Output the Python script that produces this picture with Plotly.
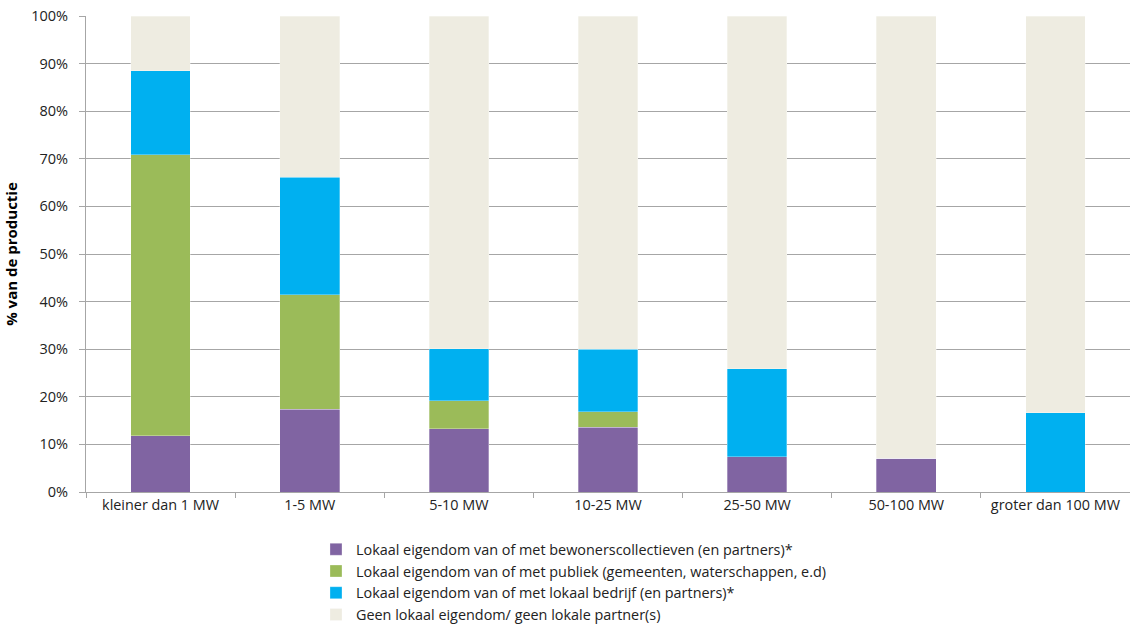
import plotly.graph_objects as go

categories = ["kleiner dan 1 MW", "1-5 MW", "5-10 MW", "10-25 MW", "25-50 MW", "50-100 MW", "groter dan 100 MW"]

series_names = [
    "Lokaal eigendom van of met bewonerscollectieven (en partners)*",
    "Lokaal eigendom van of met publiek (gemeenten, waterschappen, e.d)",
    "Lokaal eigendom van of met lokaal bedrijf (en partners)*",
    "Geen lokaal eigendom/ geen lokale partner(s)",
]

bewoners = [11.8, 17.4, 13.3, 13.6, 7.4, 7.1, 0.0]
publiek = [59.0, 24.0, 5.9, 3.3, 0.0, 0.0, 0.0]
bedrijf = [17.7, 24.7, 10.9, 13.1, 18.5, 0.0, 16.7]
geen = [11.5, 33.9, 69.9, 70.0, 74.1, 92.9, 83.3]

colors = ["#8064A2", "#9BBB59", "#00B0F0", "#EEECE1"]

y_ticks = [0, 10, 20, 30, 40, 50, 60, 70, 80, 90, 100]
y_tick_labels = [f"{v}%" for v in y_ticks]

fig = go.Figure()
for name, vals, col in zip(series_names, [bewoners, publiek, bedrijf, geen], colors):
    fig.add_trace(go.Bar(
        x=categories, y=vals, name=name,
        marker=dict(color=col, line=dict(color="white", width=0.3)),
        width=0.4,
    ))

font_family = "'Open Sans', Lato, sans-serif"

fig.update_layout(
    barmode="stack",
    width=1130, height=624,
    margin=dict(l=86, r=0, t=16, b=132, autoexpand=False),
    plot_bgcolor="white", paper_bgcolor="white",
    font=dict(family=font_family, size=13, color="#000000"),
    showlegend=True,
    legend=dict(
        traceorder="normal",
        orientation="v",
        x=0.2203, xanchor="left",
        y=-0.087, yanchor="top",
        font=dict(size=14.4, color="#222222"),
        itemwidth=30,
        tracegroupgap=0,
        bgcolor="rgba(0,0,0,0)",
    ),
    xaxis=dict(
        showline=True, linecolor="#a6a6a6", linewidth=1,
        ticks="outside", tickson="boundaries", ticklen=5, tickcolor="#a6a6a6",
        tickfont=dict(size=14.4, color="#222222"),
        showgrid=False, automargin=False,
    ),
    yaxis=dict(
        range=[0, 100],
        tickvals=y_ticks, ticktext=y_tick_labels,
        showline=True, linecolor="#a6a6a6", linewidth=1,
        ticks="outside", ticklen=6, tickcolor="#a6a6a6",
        ticklabelstandoff=8,
        ticklabeloverflow="allow",
        showgrid=True, gridcolor="#a6a6a6", gridwidth=1,
        tickfont=dict(size=14.5, color="#222222"),
        title=dict(text="<b>% van de productie</b>", font=dict(size=15, color="#000000"), standoff=9),
        zeroline=False, automargin=False,
    ),
)

# remove the default 8px page margin so the figure fills the 1130x624 window exactly
fig.write_html(
    "out.html",
    config={"displayModeBar": False},
    post_script="document.body.style.margin='0px';",
)
